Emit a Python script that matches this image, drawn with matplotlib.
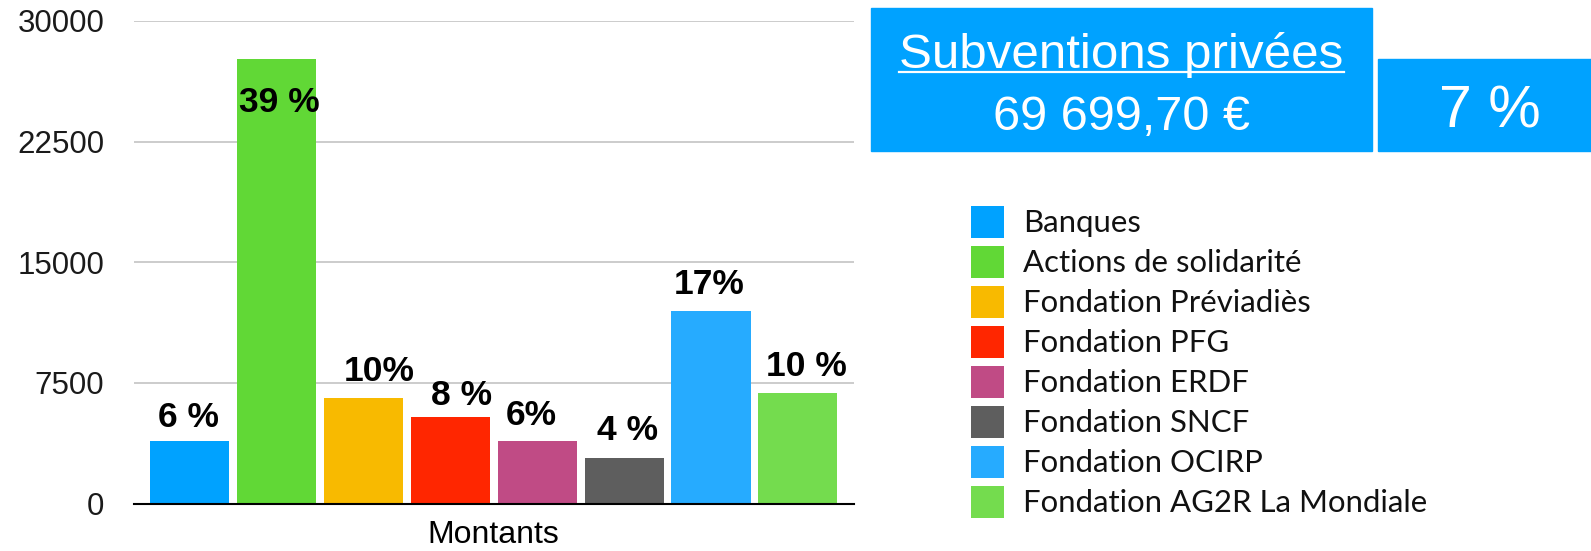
import numpy as np
import matplotlib
matplotlib.use("Agg")
import matplotlib.pyplot as plt
from matplotlib.patches import Rectangle
from matplotlib.lines import Line2D

# data
sources = ["Banques", "Actions de solidarité", "Fondation Préviadiès", "Fondation PFG",
           "Fondation ERDF", "Fondation SNCF", "Fondation OCIRP", "Fondation AG2R La Mondiale"]
montants = [3870, 27620, 6560, 5350, 3860, 2860, 12000, 6840]
pct_labels = ["6 %", "39 %", "10%", "8 %", "6%", "4 %", "17%", "10 %"]
yticks = [0, 7500, 15000, 22500, 30000]
total_label = "69 699,70 €"
total_title = "Subventions privées"
share_label = "7 %"

colors = ["#00A2FF", "#61D836", "#F8BA00", "#FF2600", "#C04B85", "#5E5E5E", "#26ABFF", "#74DC4E"]
# hand placed label nudges (pixels): x shift, baseline height above bar top
label_dx = [-1.5, 3, 16, 11, -6, 3, -2, 8.6]
label_dy = [14, -53, 16.5, 12.4, 16.5, 18, 16.5, 17]

W, H = 1591, 551
fig = plt.figure(figsize=(W / 100, H / 100), dpi=100)
ax = fig.add_axes([133.5 / W, 1 - 503.5 / H, (854 - 133.5) / W, (503.5 - 21) / H])

x = np.arange(len(montants))
bars = ax.bar(x, montants, width=0.91, color=colors, zorder=2, label=sources)
ax.set_xlim(-0.645, len(montants) - 1 + 0.645)
ax.set_ylim(0, 30000)
ax.set_yticks(yticks)
ax.set_yticklabels([str(v) for v in yticks], fontsize=22.5, family="Liberation Sans", color="#1a1a1a")
ax.tick_params(axis="y", length=0, pad=21)
ax.set_xticks([])
ax.yaxis.grid(True, color="#BFBFBF", linewidth=1.1, zorder=0)
ax.set_axisbelow(True)
for s in ["top", "right", "left"]:
    ax.spines[s].set_visible(False)
ax.spines["bottom"].set_linewidth(1.5)
ax.spines["bottom"].set_zorder(3)
ax.set_xlabel("Montants", fontsize=23, family="Liberation Sans", labelpad=12)

for i, (v, lab) in enumerate(zip(montants, pct_labels)):
    ax.annotate(lab, xy=(i, v), xytext=(label_dx[i] * 0.72, label_dy[i] * 0.72),
                textcoords="offset points", ha="center", va="baseline",
                fontsize=25.5, fontweight="bold", family="Liberation Sans", zorder=4)

# blue info boxes
box_col = "#00A2FF"
fig.patches.append(Rectangle((871 / W, 1 - 150.7 / H), (1372 - 871) / W, (150.7 - 8) / H,
                             transform=fig.transFigure, color=box_col, zorder=0))
fig.patches.append(Rectangle((1378 / W, 1 - 150.7 / H), (W - 1378) / W, (150.7 - 59) / H,
                             transform=fig.transFigure, color=box_col, zorder=0))
t_title = fig.text(1121.5 / W, 1 - 68 / H, total_title, ha="center", va="baseline",
                   fontsize=35.5, color="white", family="Liberation Sans")
fig.text(1121.5 / W, 1 - 130 / H, total_label, ha="center", va="baseline",
         fontsize=35, color="white", family="Liberation Sans")
fig.text(1490 / W, 1 - 127.3 / H, share_label, ha="center", va="baseline",
         fontsize=42.5, color="white", family="Liberation Sans")

# underline the title
fig.canvas.draw()
bb = t_title.get_window_extent()
fig.lines.append(Line2D([bb.x0 / W, bb.x1 / W], [1 - 72 / H, 1 - 72 / H],
                        transform=fig.transFigure, color="white", linewidth=1.6))

leg = ax.legend(loc="upper left", bbox_to_anchor=(971 / W, 1 - 206 / H),
                bbox_transform=fig.transFigure, frameon=False, borderaxespad=0, borderpad=0,
                prop={"family": "Lato", "size": 22.4}, handlelength=1.06, handleheight=1.2,
                handletextpad=0.6, labelspacing=0.26)
for txt in leg.get_texts():
    txt.set_color("#111111")

fig.savefig("out.png", dpi=100)
